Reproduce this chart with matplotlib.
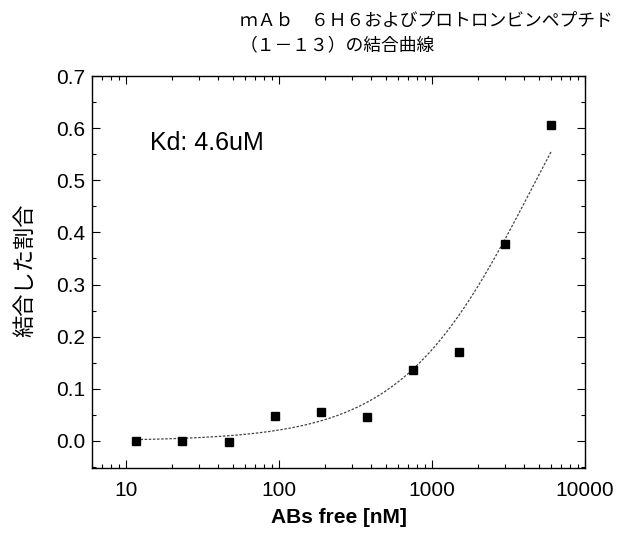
import numpy as np
import matplotlib
matplotlib.use("Agg")
import matplotlib.pyplot as plt
from matplotlib.ticker import FixedLocator, LogLocator, NullFormatter, MultipleLocator

plt.rcParams['font.family'] = ['Liberation Sans', 'Noto Sans CJK JP', 'DejaVu Sans']

# Data
abs_free_nM = [11.7, 23.4, 46.9, 93.75, 187.5, 375, 750, 1500, 3000, 6000]
fraction_bound = [0.0, 0.0, -0.002, 0.048, 0.055, 0.046, 0.136, 0.170, 0.377, 0.606]
# Fitted hyperbola parameters
kd_nM = 4600.0
bmax = 0.98
title_text = "ｍＡｂ　６Ｈ６およびプロトロンビンペプチド\n（１－１３）の結合曲線"
ylabel_text = "結合した割合"
xlabel_text = "ABs free [nM]"
kd_label = "Kd: 4.6uM"
x_ticks = [10, 100, 1000, 10000]
x_ticklabels = ["10", "100", "1000", "10000"]
y_ticks = [0.0, 0.1, 0.2, 0.3, 0.4, 0.5, 0.6, 0.7]

fig = plt.figure(figsize=(6.24, 5.35), dpi=100)
ax = fig.add_axes([92/624, (535-468)/535, (585-92)/624, (468-76)/535])

xfit = np.logspace(np.log10(abs_free_nM[0]), np.log10(abs_free_nM[-1]), 300)
yfit = bmax * xfit / (kd_nM + xfit)
ax.plot(xfit, yfit, color='#444444', lw=0.9, linestyle=(0, (2.0, 1.3)))
ax.plot(abs_free_nM, fraction_bound, linestyle='none', marker='s', markersize=6,
        color='black', markeredgecolor='black')

ax.set_xscale('log')
ax.set_xlim(6, 10000)
ax.set_ylim(-0.052, 0.7)

ax.xaxis.set_major_locator(FixedLocator(x_ticks))
ax.set_xticklabels(x_ticklabels)
ax.xaxis.set_minor_locator(LogLocator(base=10, subs=np.arange(2, 10)))
ax.xaxis.set_minor_formatter(NullFormatter())
ax.set_yticks(y_ticks)
ax.set_yticklabels([f"{v:.1f}" for v in y_ticks])
ax.yaxis.set_minor_locator(MultipleLocator(0.05))

ax.tick_params(which='both', direction='in', top=True, right=True, width=0.8)
ax.tick_params(which='major', length=6, labelsize=15)
ax.tick_params(which='minor', length=3)
ax.tick_params(axis='x', which='major', pad=9)
ax.tick_params(axis='y', which='major', pad=5)
for s in ax.spines.values():
    s.set_linewidth(1.0)

ax.set_xlabel(xlabel_text, fontsize=15, fontweight='bold', labelpad=6)

ax.text((150-92)/(585-92), (468-143)/(468-76), kd_label, transform=ax.transAxes,
        fontsize=18, va='center', ha='left')

fig.text(25/624, (535-270)/535, ylabel_text, rotation=90, fontsize=16,
         family=['Noto Sans CJK JP'], ha='center', va='center')
fig.text(240/624, (535-12)/535, title_text, fontsize=12.8, family=['Noto Sans CJK JP'],
         ha='left', va='top', linespacing=1.45)

fig.savefig("out.png", dpi=100)
